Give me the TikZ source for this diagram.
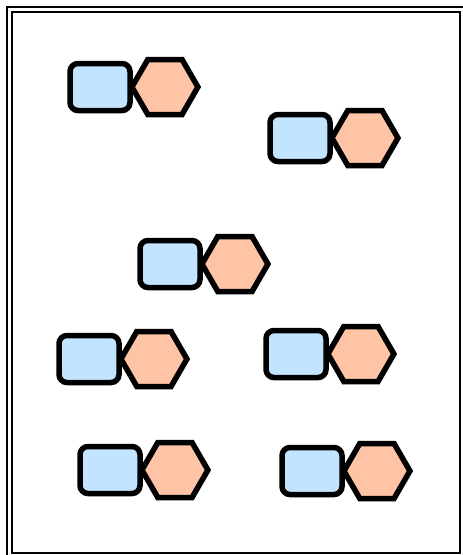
\documentclass[tikz,border=0pt]{standalone}
\usetikzlibrary{positioning,shapes.symbols}
\definecolor{hopxanh}{RGB}{194,228,255}
\definecolor{lucgiac}{RGB}{255,196,166}
\tikzset{
	hop/.style={draw, line width=5.5pt, rounded corners=8pt, fill=hopxanh,
		minimum width=60pt, minimum height=47pt, inner sep=0pt},
	luc/.style={draw, line width=5.5pt, signal, signal to=east and west,
		signal pointer angle=120, fill=lucgiac,
		minimum width=66pt, minimum height=55pt, inner sep=0pt}
}
\begin{document}
\begin{tikzpicture}[x=1pt,y=-1pt]
	\useasboundingbox (0,0) rectangle (463,555);
	%	khung
	\draw[line width=2pt] (7,7) rectangle (468,560);
	\draw[line width=2pt] (12,12) rectangle (460,553);
	%	cap 1
	\node[hop] (h1) at (100,87) {};
	\node[luc, right=-4pt of h1] (g1) {};
	%	cap 2
	\node[hop] (h2) at (300,138) {};
	\node[luc, right=-4pt of h2] (g2) {};
	%	cap 3
	\node[hop] (h3) at (170,264) {};
	\node[luc, right=-4pt of h3] (g3) {};
	%	cap 4
	\node[hop] (h4) at (89,359) {};
	\node[luc, right=-4pt of h4] (g4) {};
	%	cap 5
	\node[hop] (h5) at (296,354) {};
	\node[luc, right=-4pt of h5] (g5) {};
	%	cap 6
	\node[hop] (h6) at (110,470) {};
	\node[luc, right=-4pt of h6] (g6) {};
	%	cap 7
	\node[hop] (h7) at (312,471) {};
	\node[luc, right=-4pt of h7] (g7) {};
\end{tikzpicture}
\end{document}
